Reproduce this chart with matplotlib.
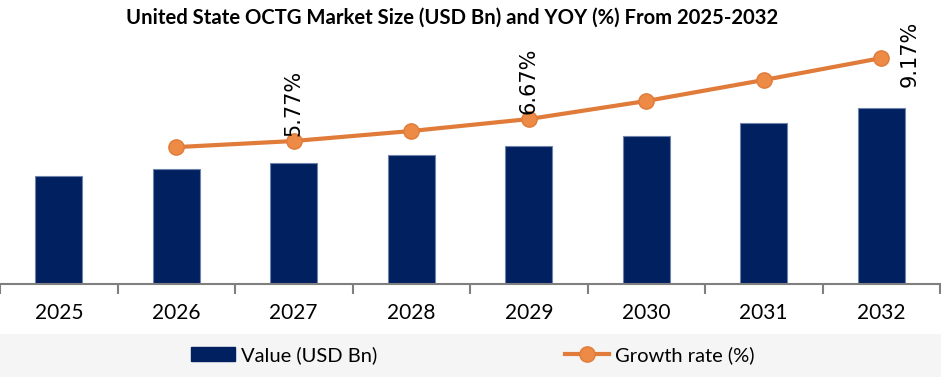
import numpy as np
import matplotlib.pyplot as plt
from matplotlib.patches import Rectangle, Patch
from matplotlib.lines import Line2D

plt.rcParams['font.family'] = ['Lato', 'DejaVu Sans']

years = ['2025', '2026', '2027', '2028', '2029', '2030', '2031', '2032']
values = [4.25, 4.53, 4.76, 5.08, 5.43, 5.83, 6.34, 6.93]
growth = [np.nan, 5.52, 5.77, 6.18, 6.67, 7.41, 8.27, 9.17]
shown_labels = {2: '5.77%', 4: '6.67%', 7: '9.17%'}

W, H = 941, 377
fig = plt.figure(figsize=(W / 100, H / 100), dpi=100)

# light band behind the legend
fig.patches.append(Rectangle((0, 0), 1, 43 / H, transform=fig.transFigure,
                             facecolor='#f5f5f5', edgecolor='none', zorder=0))

ax = fig.add_axes([0, 93 / H, 940 / W, 254 / H])
x = np.arange(len(years))
ax.bar(x, values, width=0.4, color='#002060', edgecolor='#6f83ab', linewidth=0.8, zorder=2)
ax.set_xlim(-0.5, 7.5)
ax.set_ylim(0, 10)
ax.set_yticks([])
for s in ['top', 'right', 'left']:
    ax.spines[s].set_visible(False)
ax.spines['bottom'].set_color('#7f7f7f')
ax.spines['bottom'].set_linewidth(1.5)
ax.set_xticks(x, labels=years)
ax.tick_params(axis='x', which='major', length=0, pad=14, labelsize=15)
ax.set_xticks(np.arange(-0.5, 8, 1), minor=True)
ax.tick_params(axis='x', which='minor', length=7, width=1.5, color='#7f7f7f')
ax.patch.set_alpha(0)

ax2 = ax.twinx()
ax2.set_ylim(-0.09, 10.32)
ax2.axis('off')
ax2.plot(x, growth, color='#e07b39', linewidth=3, marker='o', markersize=11,
         markerfacecolor='#ed8a45', markeredgecolor='#e07b39', markeredgewidth=1, zorder=3)
for i, txt in shown_labels.items():
    if i == 7:
        ax2.annotate(txt, (x[i], growth[i]), xytext=(18, 4), textcoords='offset pixels',
                     rotation=90, ha='left', va='center', fontsize=15, family='DejaVu Sans')
    else:
        ax2.annotate(txt, (x[i], growth[i]), xytext=(0, 5), textcoords='offset pixels',
                     rotation=90, ha='center', va='bottom', fontsize=15, family='DejaVu Sans')

fig.text(452 / W, 1 - 18 / H, 'United State OCTG Market Size (USD Bn) and YOY (%) From 2025-2032',
         ha='center', va='center', fontsize=14.6, fontweight='bold')

handles = [Patch(facecolor='#002060', edgecolor='#002060'),
           Line2D([0], [0], color='#e07b39', linewidth=3, marker='o', markersize=11,
                  markerfacecolor='#ed8a45', markeredgecolor='#e07b39')]
fig.legend(handles, ['Value (USD Bn)', 'Growth rate (%)'], loc='center',
           bbox_to_anchor=(473 / W, 22 / H), ncol=2, frameon=False, fontsize=14.5,
           handlelength=2.2, handletextpad=0.3, columnspacing=9.3)

fig.savefig('out.png', dpi=100)
